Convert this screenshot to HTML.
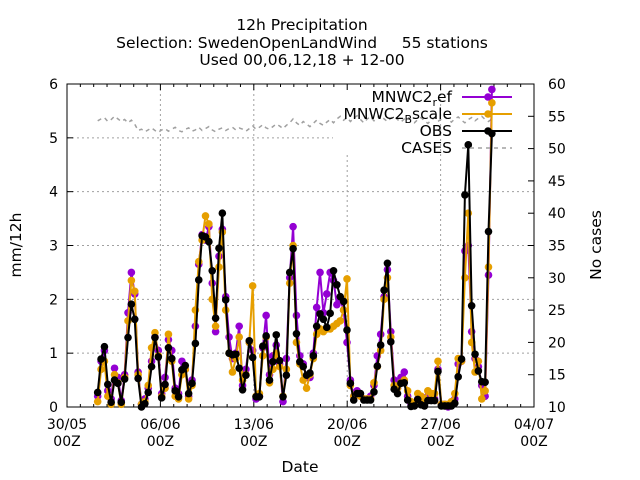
<!DOCTYPE html>
<html><head><meta charset="utf-8"><style>
html,body{margin:0;padding:0;background:#fff;}
svg{display:block;font-family:"DejaVu Sans","Liberation Sans",sans-serif;}
</style></head><body>
<svg id="chart" width="640" height="480" viewBox="0 0 640 480" xmlns="http://www.w3.org/2000/svg">
<rect width="640" height="480" fill="#fff"/>
<g font-size="15.5" text-anchor="middle" fill="#000">
<text x="302" y="30">12h Precipitation</text>
<text x="302" y="48" xml:space="preserve">Selection: SwedenOpenLandWind     55 stations</text>
<text x="302" y="65">Used 00,06,12,18 + 12-00</text>
</g>
<g id="grid"></g>
<g id="axes"></g>
<g id="series"></g>
<g id="legend"></g>
<text x="300" y="472" font-size="15.5" text-anchor="middle">Date</text>
<text x="21" y="245" font-size="15.5" text-anchor="middle" transform="rotate(-90 21 245)">mm/12h</text>
<text x="601" y="245" font-size="15.5" text-anchor="middle" transform="rotate(-90 601 245)">No cases</text>
</svg>
<script>
const xTickLabels=["30/05","06/06","13/06","20/06","27/06","04/07"];
const yTicks=[0,1,2,3,4,5,6];
const y2Ticks=[10,15,20,25,30,35,40,45,50,55,60];
const startDay=2.3;
const stepDay=0.2525;
const obs=[0.27,0.89,1.12,0.42,0.09,0.50,0.44,0.09,0.52,1.29,1.91,1.63,0.53,0.00,0.06,0.27,0.75,1.29,0.93,0.17,0.42,1.10,0.90,0.30,0.19,0.69,0.77,0.25,0.44,1.18,2.36,3.18,3.16,3.07,2.53,1.65,2.95,3.60,1.99,1.00,0.97,0.98,0.72,0.32,0.59,1.23,0.92,0.19,0.19,1.13,1.32,0.50,0.84,1.34,0.86,0.19,0.59,2.50,2.94,1.36,0.84,0.75,0.59,0.63,0.95,1.50,1.73,1.63,1.48,1.74,2.53,2.27,2.05,1.96,1.43,0.44,0.13,0.25,0.25,0.13,0.13,0.13,0.28,0.76,1.15,2.17,2.67,1.21,0.33,0.25,0.44,0.45,0.13,0.01,0.02,0.14,0.04,0.02,0.12,0.12,0.12,0.66,0.02,0.02,0.02,0.02,0.07,0.56,0.89,3.94,4.87,1.88,0.98,0.67,0.47,0.46,3.26,5.08];
const mnwcRef=[0.20,0.85,1.05,0.30,0.15,0.72,0.55,0.12,0.60,1.75,2.50,2.10,0.65,0.05,0.15,0.35,0.85,1.30,1.05,0.25,0.55,1.25,1.05,0.35,0.25,0.85,0.70,0.20,0.50,1.50,2.65,3.20,3.10,3.35,2.30,1.40,2.80,3.30,2.05,1.30,0.90,1.00,1.50,0.40,0.70,1.20,1.05,0.15,0.20,1.10,1.70,0.60,0.95,1.15,0.80,0.10,0.90,2.40,3.35,1.70,0.95,0.80,0.55,0.55,1.00,1.85,2.50,1.75,2.10,2.50,2.35,1.90,2.00,1.80,1.20,0.50,0.20,0.30,0.20,0.15,0.15,0.20,0.40,0.95,1.35,2.05,2.55,1.40,0.50,0.35,0.55,0.65,0.20,0.05,0.05,0.15,0.10,0.10,0.20,0.15,0.15,0.70,0.05,0.05,0.00,0.05,0.15,0.80,0.85,2.90,3.00,1.40,0.90,0.75,0.40,0.20,2.45,5.90];
const mnwcBscale=[0.10,0.70,0.85,0.20,0.05,0.60,0.45,0.05,0.55,1.60,2.35,2.15,0.60,0.05,0.10,0.40,1.10,1.38,0.95,0.20,0.35,1.35,0.85,0.20,0.15,0.60,0.70,0.15,0.40,1.80,2.70,3.10,3.55,3.40,2.00,1.50,2.60,3.25,1.80,1.00,0.65,0.90,1.30,0.50,0.60,1.20,2.25,0.20,0.25,0.95,1.30,0.45,0.70,1.00,0.75,0.20,0.70,2.30,3.00,1.20,0.80,0.50,0.35,0.60,0.90,1.35,1.45,1.40,1.45,1.45,1.50,1.55,1.60,1.80,2.38,0.40,0.20,0.25,0.20,0.15,0.15,0.15,0.45,0.75,1.05,2.00,2.40,1.30,0.40,0.35,0.45,0.50,0.30,0.10,0.05,0.25,0.20,0.15,0.30,0.25,0.25,0.85,0.05,0.05,0.05,0.10,0.25,0.90,0.85,2.40,3.60,1.20,0.65,0.85,0.15,0.30,2.60,5.65];
const cases=[54.3,54.6,54.8,54.2,54.5,55.0,54.6,54.2,54.5,54.0,54.4,53.8,52.8,53.0,52.6,52.9,53.2,52.8,52.5,52.9,53.1,52.7,53.0,53.3,52.8,52.6,53.0,53.2,52.7,52.9,53.3,52.8,53.1,53.4,52.9,52.6,53.0,53.2,52.8,53.1,53.3,52.9,53.2,53.0,52.7,53.1,53.5,53.0,53.3,53.7,53.2,53.0,53.4,53.8,53.5,53.1,53.6,54.0,54.6,54.0,53.6,54.2,53.8,53.4,53.9,54.4,53.9,53.6,54.1,54.5,54.0,54.6,55.0,54.4,54.8,54.2,54.7,55.1,54.5,54.0,54.6,54.9,54.3,54.8,55.2,54.6,54.2,54.7,55.0,54.5,54.1,54.6,54.9,54.4,54.0,54.5,54.8,54.3,53.9,54.4,54.8,54.2,54.6,55.0,54.5,54.1,54.6,54.9,54.4,54.0,54.5,54.8,54.3,54.7,55.0,54.5,54.2,54.6];

const NS="http://www.w3.org/2000/svg";
const L=67,R=534,T=84,B=407,DAYS=35;
const xS=d=>L+(R-L)*d/DAYS;
const yS=v=>B-(B-T)*v/6;
const y2S=v=>B-(B-T)*(v-10)/50;
function mk(tag,attrs,parent){const e=document.createElementNS(NS,tag);for(const k in attrs)e.setAttribute(k,attrs[k]);parent.appendChild(e);return e;}
const grid=document.getElementById('grid'),axes=document.getElementById('axes'),series=document.getElementById('series'),legend=document.getElementById('legend');

yTicks.forEach((v,i)=>{if(i===0||i===yTicks.length-1)return;
 const g=mk('line',{x1:L,x2:(v===5?333:R),y1:yS(v),y2:yS(v),stroke:'#a0a0a0','stroke-width':1,'stroke-dasharray':'2,3'},grid);
 
 });
xTickLabels.forEach((s,i)=>{if(i===0||i===xTickLabels.length-1)return;
 const x=xS(i*7);
 const g=mk('line',{x1:x,x2:x,y1:(i===3?155:T),y2:B,stroke:'#a0a0a0','stroke-width':1,'stroke-dasharray':'2,3'},grid);
 
 });

const fr=mk('rect',{x:L,y:T,width:R-L,height:B-T,fill:'none',stroke:'#000','stroke-width':1},axes);


yTicks.forEach(v=>{const y=yS(v);
 mk('line',{x1:L,x2:L+6,y1:y,y2:y,stroke:'#000'},axes);
 const t=mk('text',{x:L-9,y:y+5,'font-size':14,'text-anchor':'end'},axes);t.textContent=v;
 
 });
y2Ticks.forEach(v=>{const y=y2S(v);
 mk('line',{x1:R-6,x2:R,y1:y,y2:y,stroke:'#000'},axes);
 const t=mk('text',{x:R+14,y:y+5,'font-size':14,'text-anchor':'start'},axes);t.textContent=v;
 
 });
for(let d=0;d<=DAYS;d++){const x=xS(d);const len=d%7===0?6:3;
 mk('line',{x1:x,x2:x,y1:B,y2:B-len,stroke:'#000'},axes);
 mk('line',{x1:x,x2:x,y1:T,y2:T+len,stroke:'#000'},axes);}
xTickLabels.forEach((s,i)=>{const x=xS(i*7);
 const t=mk('text',{x:x,y:429,'font-size':14,'text-anchor':'middle'},axes);t.textContent=s;
 
 
 const t2=mk('text',{x:x,y:446,'font-size':14,'text-anchor':'middle'},axes);t2.textContent='00Z';
 
 });

const tx=i=>xS(startDay+i*stepDay);
{const pts=cases.map((v,i)=>tx(i).toFixed(1)+','+y2S(v).toFixed(1)).join(' ');
 const p=mk('polyline',{points:pts,fill:'none',stroke:'#a0a0a0','stroke-width':1.5,'stroke-dasharray':'4,4'},series);
 
 }
function drawSeries(arr,color,name){
 const g=mk('g',{},series);
 
 
 const pts=arr.map((v,i)=>tx(i).toFixed(1)+','+yS(v).toFixed(1)).join(' ');
 mk('polyline',{points:pts,fill:'none',stroke:color,'stroke-width':2,'stroke-linejoin':'round'},g);
 arr.forEach((v,i)=>{const c=mk('circle',{cx:tx(i),cy:yS(v),r:3.8,fill:color},g);
  
  });
}
drawSeries(mnwcRef,'#9400d3','mnwc2-ref-series');
drawSeries(mnwcBscale,'#e69f00','mnwc2-bscale-series');
drawSeries(obs,'#000000','obs-series');

const leg=[{n:'MNWC2',s:'r',e:'ef',c:'#9400d3',y:97,k:'legend-mnwc2-ref'},{n:'MNWC2',s:'B',e:'scale',c:'#e69f00',y:114,k:'legend-mnwc2-bscale'},{n:'OBS',s:'',e:'',c:'#000',y:131,k:'legend-obs'},{n:'CASES',s:'',e:'',c:'#a0a0a0',y:148,k:'legend-cases'}];
leg.forEach(l=>{const g=mk('g',{},legend);
 
 
 const t=mk('text',{x:452,y:l.y+5,'font-size':15.5,'text-anchor':'end'},g);
 t.appendChild(document.createTextNode(l.n));
 if(l.s){const sp=mk('tspan',{'font-size':11,dy:4},t);sp.textContent=l.s;const sp2=mk('tspan',{'font-size':15.5,dy:-4},t);sp2.textContent=l.e;}
 if(l.k==='legend-cases'){mk('line',{x1:462,x2:512,y1:l.y,y2:l.y,stroke:l.c,'stroke-width':1.5,'stroke-dasharray':'4,4'},g);}
 else{mk('line',{x1:462,x2:512,y1:l.y,y2:l.y,stroke:l.c,'stroke-width':2},g);mk('circle',{cx:488,cy:l.y,r:3.8,fill:l.c},g);}
});
</script>
</body></html>
